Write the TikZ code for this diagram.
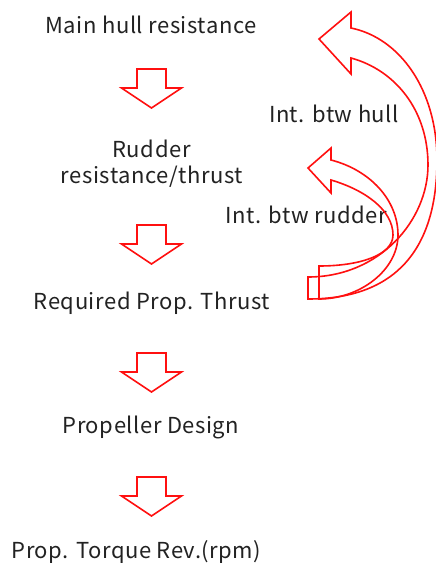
\documentclass[tikz,border=0pt]{standalone}
\usepackage{fontspec}
\setmainfont{Noto Sans CJK JP}[LetterSpace=2.5]
\definecolor{txt}{HTML}{222222}
\definecolor{arr}{HTML}{FF1010}
\tikzset{
  lbl/.style={anchor=base, inner sep=0pt, text=txt, font=\fontsize{22}{26}\selectfont, align=center},
  arrline/.style={draw=arr, line width=1.6pt, line join=miter},
  downarr/.pic={\draw[arrline] (-14.5,0) -- (14.5,0) -- (14.5,19) -- (30,19) -- (0,39) -- (-30,19) -- (-14.5,19) -- cycle;}
}
\begin{document}
\begin{tikzpicture}[x=1pt,y=-1pt]
\useasboundingbox (0,0) rectangle (436,563);
\fill[white] (0,0) rectangle (436,563);
\node[lbl] (hull) at (151,33) {Main hull resistance};
\node[lbl, anchor=base] (rud1) at (151.5,157) {Rudder};
\node[lbl] (rud2) at (152,183) {resistance/thrust};
\node[lbl] (req) at (152,309) {Required Prop. Thrust};
\node[lbl] (des) at (151,433) {Propeller Design};
\node[lbl] (torq) at (136.5,558) {Prop. Torque Rev.(rpm)};
\node[lbl] (ihull) at (334,122) {Int. btw hull};
\node[lbl] (irud) at (306,223) {Int. btw rudder};
\pic at (151.5,69) {downarr};
\pic at (151.5,225) {downarr};
\pic at (151.5,353) {downarr};
\pic at (151.5,477) {downarr};
% hull interaction arrow
\draw[arrline] (319,39) -- (351,12) -- (351,28)
  .. controls (400,38) and (437,90) .. (437,160)
  .. controls (437,250) and (395,299) .. (308,299)
  -- (308,277)
  .. controls (380,277) and (428,220) .. (428,165)
  .. controls (428,110) and (395,70) .. (351,58)
  -- (351,74) -- cycle;
% rudder interaction arrow
\draw[arrline] (308,168) -- (331,148) -- (331,160)
  .. controls (370,170) and (398,200) .. (398,235)
  .. controls (398,270) and (360,299) .. (319,299)
  -- (319,266)
  .. controls (360,266) and (393,255) .. (393,235)
  .. controls (393,210) and (365,190) .. (331,180)
  -- (331,193) -- cycle;
\end{tikzpicture}
\end{document}
